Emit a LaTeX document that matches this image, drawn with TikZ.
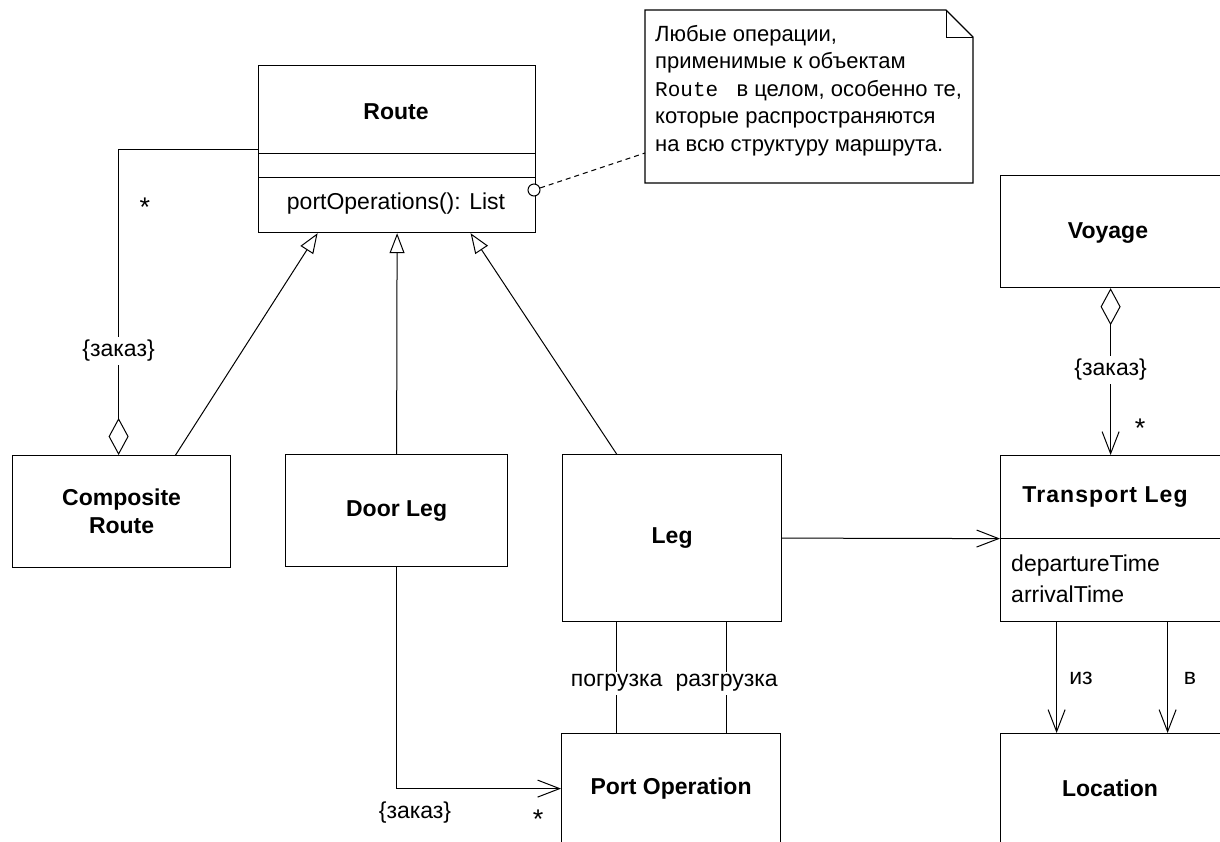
\documentclass[tikz,border=0pt]{standalone}
\usepackage{fontspec}
\setmainfont{Liberation Sans}
\newfontfamily\monofont{Liberation Mono}
\usetikzlibrary{arrows.meta}
\tikzset{
  box/.style={draw, line width=1.2pt, inner sep=0pt, anchor=north west},
  title/.style={font=\fontsize{23}{28}\selectfont\bfseries, align=center},
  plain/.style={font=\fontsize{23}{28}\selectfont},
  attr/.style={font=\fontsize{23}{28}\selectfont, align=left, anchor=west, inner sep=0pt},
  lbl/.style={font=\fontsize{23}{26}\selectfont, fill=white, inner sep=3pt},
  mult/.style={font=\fontsize{27}{28}\selectfont, inner sep=0pt},
  conn/.style={line width=1pt},
  nav/.style={conn, -{Straight Barb[length=22pt,width=17pt,line width=1pt]}},
  gen/.style={conn, -{Triangle[open,length=20pt,width=15pt,line width=1pt]}},
  agg/.style={conn, {Diamond[open,length=37pt,width=20pt,line width=1pt]}-},
  aggnav/.style={conn, {Diamond[open,length=37pt,width=20pt,line width=1pt]}-{Straight Barb[length=22pt,width=17pt,line width=1pt]}},
}
\begin{document}
\begin{tikzpicture}[x=1pt,y=-1pt]
\useasboundingbox (0,0) rectangle (1220,841);
\clip (0,0) rectangle (1220,841);

% Route class
\node[box, minimum width=277pt, minimum height=167pt] (route) at (258,65) {};
\draw[line width=1pt] (258,153) -- (535,153);
\draw[line width=1pt] (258,177) -- (535,177);
\node[title] (routet) at (396,112) {Route};
\node[plain] (routeop) at (396,204) {portOperations(): List};

% Note
\draw[line width=1.2pt] (645,10) -- (946,10) -- (973,37) -- (973,183) -- (645,183) -- cycle;
\draw[line width=1pt] (946,10) -- (946,37) -- (973,37);
\node[anchor=north west, align=left, inner sep=0pt, font=\fontsize{22}{27.5}\selectfont] (note) at (655,25)
  {Любые операции,\\применимые к объектам\\{\monofont\fontsize{21}{27.5}\selectfont Route}\ \ \ в целом, особенно те,\\которые распространяются\\на всю структуру маршрута.};
\coordinate (notept) at (645,153);
\node[circle, draw, fill=white, line width=1pt, minimum size=12pt, inner sep=0pt] (anc) at (534,190) {};
\draw[line width=1pt, dash pattern=on 5pt off 4pt] (anc) -- (notept);

% Other classes
\node[box, title, minimum width=218pt, minimum height=112pt] (comp) at (12,455) {Composite\\Route};
\node[box, title, minimum width=222pt, minimum height=112pt] (door) at (285,454) {Door Leg};
\node[box, title, minimum width=219pt, minimum height=167pt] (leg) at (562,454) {Leg};
\node[box, title, minimum width=219pt, minimum height=110pt] (portop) at (561,733) {Port Operation};

\node[box, minimum width=260pt, minimum height=112pt] (voyage) at (1000,175) {};
\node[title] (voyaget) at (1108,233) {Voyage};

\node[box, minimum width=260pt, minimum height=166pt] (tleg) at (1000,455) {};
\draw[line width=1pt] (1000,538) -- (1260,538);
\node[title, font=\fontsize{23}{28}\selectfont\bfseries\addfontfeatures{LetterSpace=4.7}] (tlegt) at (1105,497) {Transport Leg};
\node[attr] (tlega) at (1011,566) {departureTime};
\node[attr] (tlegb) at (1011,594) {arrivalTime};

\node[box, minimum width=260pt, minimum height=110pt] (loc) at (1000,733) {};
\node[title] (loct) at (1110,788) {Location};

% Connectors
\draw[agg] ([xshift=-3pt]comp.north) |- (route.west)
  node[pos=0.17, lbl] (l1) {\{заказ\}};
\node[mult] (m1) at (145,207) {*};

\draw[gen] ([xshift=54pt]comp.north) -- ([xshift=-79.5pt]route.south);
\draw[gen] (door.north) -- (route.south);
\draw[gen] ([xshift=-55.5pt]leg.north) -- ([xshift=73.5pt]route.south);

\draw[nav] (leg.east) -- (tleg.west);

\draw[nav] (door.south) |- (portop.west);
\node[plain] (l2) at (415,813) {\{заказ\}};
\node[mult] (m2) at (538,819) {*};

\draw[conn] ([xshift=-55.5pt]leg.south) -- ([xshift=-54.5pt]portop.north)
  node[pos=0.55, lbl] (l3) {погрузка};
\draw[conn] ([xshift=54.5pt]leg.south) -- ([xshift=55.5pt]portop.north)
  node[pos=0.55, lbl] (l4) {разгрузка};

\draw[aggnav] ([xshift=-20pt]voyage.south) -- ([xshift=-20pt]tleg.north)
  node[pos=0.49, lbl] (l5) {\{заказ\}};
\node[mult] (m3) at (1140,428) {*};

\draw[nav] ([xshift=-74pt]tleg.south) -- ([xshift=-74pt]loc.north);
\draw[nav] ([xshift=37pt]tleg.south) -- ([xshift=37pt]loc.north);
\node[plain] (l6) at (1081,678) {из};
\node[plain] (l7) at (1190,678) {в};
\end{tikzpicture}
\end{document}
